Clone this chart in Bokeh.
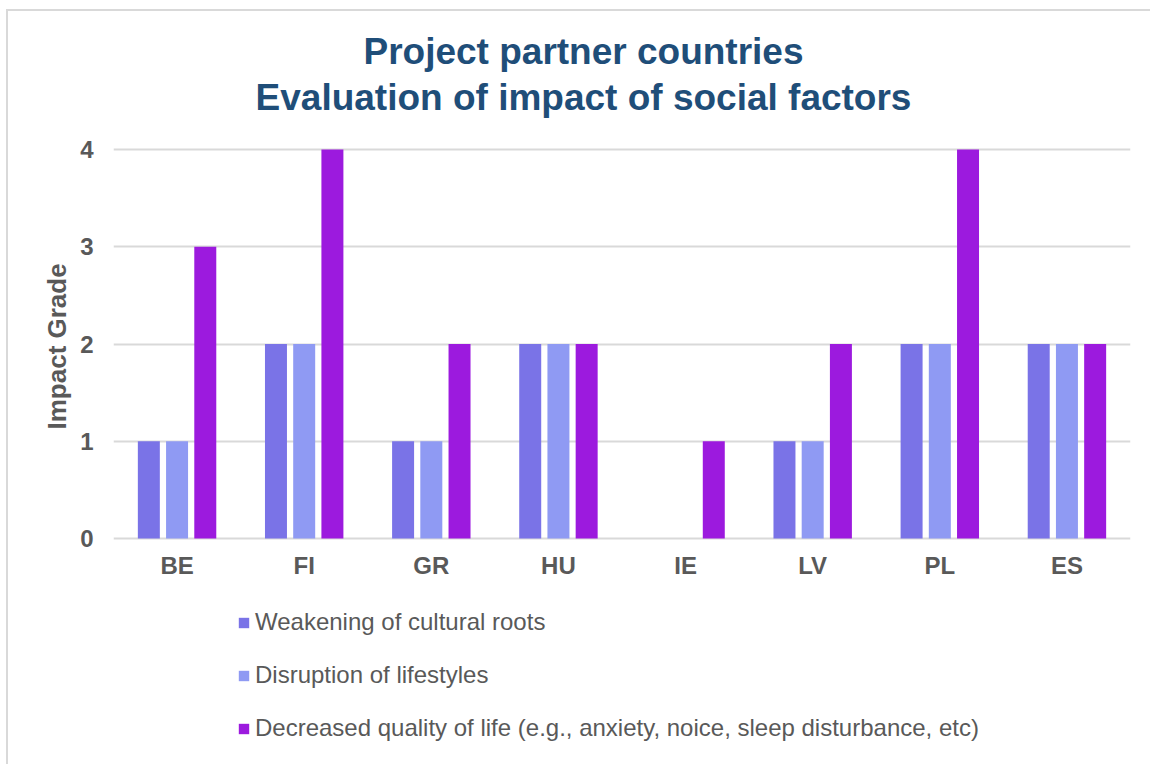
from bokeh.plotting import figure
from bokeh.models import FactorRange, Range1d, Label, Legend, LegendItem, ColumnDataSource, FixedTicker, Title
from bokeh.transform import dodge
from bokeh.embed import file_html
from bokeh.resources import INLINE

countries = ["BE", "FI", "GR", "HU", "IE", "LV", "PL", "ES"]
weakening = [1, 2, 1, 2, 0, 1, 2, 2]
disruption = [1, 2, 1, 2, 0, 1, 2, 2]
decreased = [3, 4, 2, 2, 1, 2, 4, 2]
series_names = [
    "Weakening of cultural roots",
    "Disruption of lifestyles",
    "Decreased quality of life (e.g., anxiety, noice, sleep disturbance, etc)",
]
colors = ["#7A73E7", "#8F9AF3", "#9C1ADE"]
title_lines = ["Project partner countries", "Evaluation of impact of social factors"]
y_ticks = [0, 1, 2, 3, 4]

FONT = "Liberation Sans"
GRAY = "#595959"

H = 755
PX_PER_UNIT = 97.25
ZERO_Y = 527   # canvas row of the zero line
TOP_Y = 138    # canvas row of the 4 line

src = ColumnDataSource(dict(x=countries, a=weakening, b=disruption, c=decreased))

# the frame spans the whole canvas height; titles and legend live inside it
p = figure(
    x_range=FactorRange(*countries, range_padding=0),
    y_range=Range1d(-(H - ZERO_Y) / PX_PER_UNIT, 4 + TOP_Y / PX_PER_UNIT),
    width=1144, height=H, title=None,
    output_backend="svg", toolbar_location=None,
    min_border_left=105, min_border_right=22, min_border_top=0, min_border_bottom=0,
)
p.styles = {"margin-left": "6px", "margin-top": "9px",
            "border-left": "2px solid #d9d9d9", "border-top": "2px solid #d9d9d9"}
p.outline_line_color = None
p.background_fill_color = "white"
p.border_fill_color = "white"

renderers = []
for col, off, c in zip(["a", "b", "c"], [-0.222, 0.0, 0.222], colors):
    r = p.vbar(x=dodge("x", off, range=p.x_range), top=col, width=0.173, source=src,
               fill_color=c, line_color=None)
    renderers.append(r)

p.xgrid.grid_line_color = None
p.ygrid.grid_line_color = "#d9d9d9"
p.ygrid.grid_line_width = 2
p.yaxis.ticker = FixedTicker(ticks=y_ticks)
p.xaxis.fixed_location = 0

for ax in (p.xaxis[0], p.yaxis[0]):
    ax.axis_line_color = None
    ax.major_tick_line_color = None
    ax.minor_tick_line_color = None
    ax.major_tick_out = 0
    ax.major_tick_in = 0
    ax.minor_tick_out = 0
    ax.major_label_text_font = FONT
    ax.major_label_text_font_style = "bold"
    ax.major_label_text_font_size = "24px"
    ax.major_label_text_color = GRAY

p.xaxis.major_label_standoff = 13
p.yaxis.major_label_standoff = 20

p.add_layout(Title(text="Impact Grade", align="left", offset=H - 418, standoff=12,
                   vertical_align="bottom",
                   text_font=FONT, text_font_size="26px", text_font_style="bold",
                   text_color=GRAY), "left")

for txt, cy in zip(title_lines, [40, 86]):
    p.add_layout(Label(x=470, y=H - cy, x_units="screen", y_units="screen", text=txt,
                       text_align="center", text_baseline="middle",
                       text_font=FONT, text_font_size="37px", text_font_style="bold",
                       text_color="#1F4E79"))

legend = Legend(
    items=[LegendItem(label=n, renderers=[r]) for n, r in zip(series_names, renderers)],
    location=(124, 24), orientation="vertical",
    glyph_width=13, glyph_height=13, label_height=28, spacing=25,
    label_standoff=5, padding=0, margin=0,
    label_text_font=FONT, label_text_font_size="24px", label_text_color=GRAY,
    border_line_color=None, background_fill_alpha=0,
)
p.add_layout(legend, "center")

open("out.html", "w").write(file_html(p, INLINE))
